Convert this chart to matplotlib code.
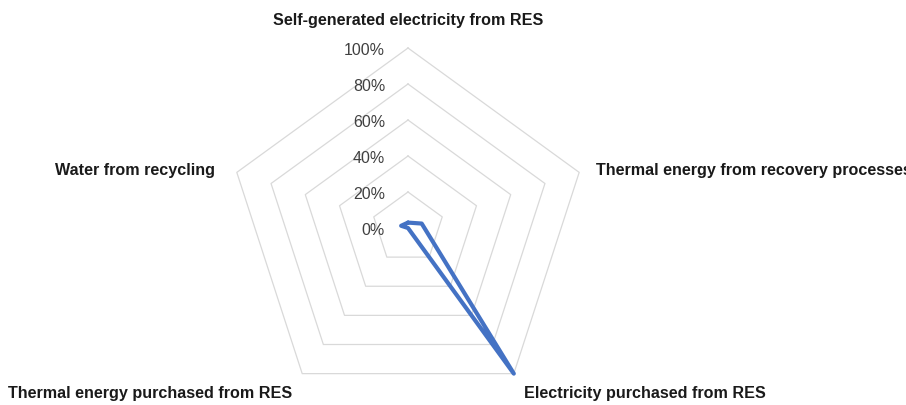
import numpy as np
import matplotlib
matplotlib.use("Agg")
import matplotlib.pyplot as plt
from matplotlib.transforms import offset_copy

plt.rcParams['font.family'] = ['Liberation Sans', 'DejaVu Sans']

# --- data ---
categories = [
    "Self-generated electricity from RES",
    "Thermal energy from recovery processes",
    "Electricity purchased from RES",
    "Thermal energy purchased from RES",
    "Water from recycling",
]
values = [0.03, 0.08, 1.00, 0.00, 0.04]
grid_levels = [0.2, 0.4, 0.6, 0.8, 1.0]
tick_levels = [0.0, 0.2, 0.4, 0.6, 0.8, 1.0]
tick_labels = ["0%", "20%", "40%", "60%", "80%", "100%"]

# label offsets in pixels from each 100% vertex, with alignment
label_offsets = [(0, 27, "center"), (17, 2, "left"), (10, -20, "left"),
                 (-10, -20, "right"), (-22, 2, "right")]


def main():
    fig = plt.figure(figsize=(9.06, 4.05), dpi=100)
    W, H = 906, 405
    cx, cy, R = 408, 228, 180
    ax = fig.add_axes([(cx - R) / W, (H - cy - R) / H, 2 * R / W, 2 * R / H],
                      projection="polar")
    ax.set_theta_zero_location("N")
    ax.set_theta_direction(-1)
    ax.set_ylim(0, 1)
    ax.grid(False)
    ax.spines["polar"].set_visible(False)
    ax.set_xticks([])
    ax.set_yticks([])
    ax.patch.set_alpha(0)

    n = len(categories)
    angles = np.linspace(0, 2 * np.pi, n, endpoint=False)
    closed = np.append(angles, angles[0])

    # pentagon gridlines
    for lvl in grid_levels:
        ax.plot(closed, [lvl] * (n + 1), color="#d9d9d9", lw=0.9,
                clip_on=False, zorder=1)

    # radial tick labels
    tick_tr = offset_copy(ax.transData, fig=fig, x=-23, y=-2.5, units="dots")
    for lvl, lab in zip(tick_levels, tick_labels):
        ax.text(0, lvl, lab, transform=tick_tr, ha="right", va="center",
                fontsize=11.5, color="#404040")

    # category labels
    for ang, cat, (dx, dy, ha) in zip(angles, categories, label_offsets):
        tr = offset_copy(ax.transData, fig=fig, x=dx, y=dy, units="dots")
        ax.text(ang, 1.0, cat, transform=tr, ha=ha, va="center",
                fontsize=11.6, fontweight="bold", color="#1a1a1a", clip_on=False)

    # data series
    vals = np.append(values, values[0])
    ax.plot(closed, vals, color="#4472C4", lw=3.0, solid_joinstyle="round",
            solid_capstyle="round", clip_on=False, zorder=3)

    fig.savefig("out.png", dpi=100, facecolor="white")


if __name__ == "__main__":
    main()
